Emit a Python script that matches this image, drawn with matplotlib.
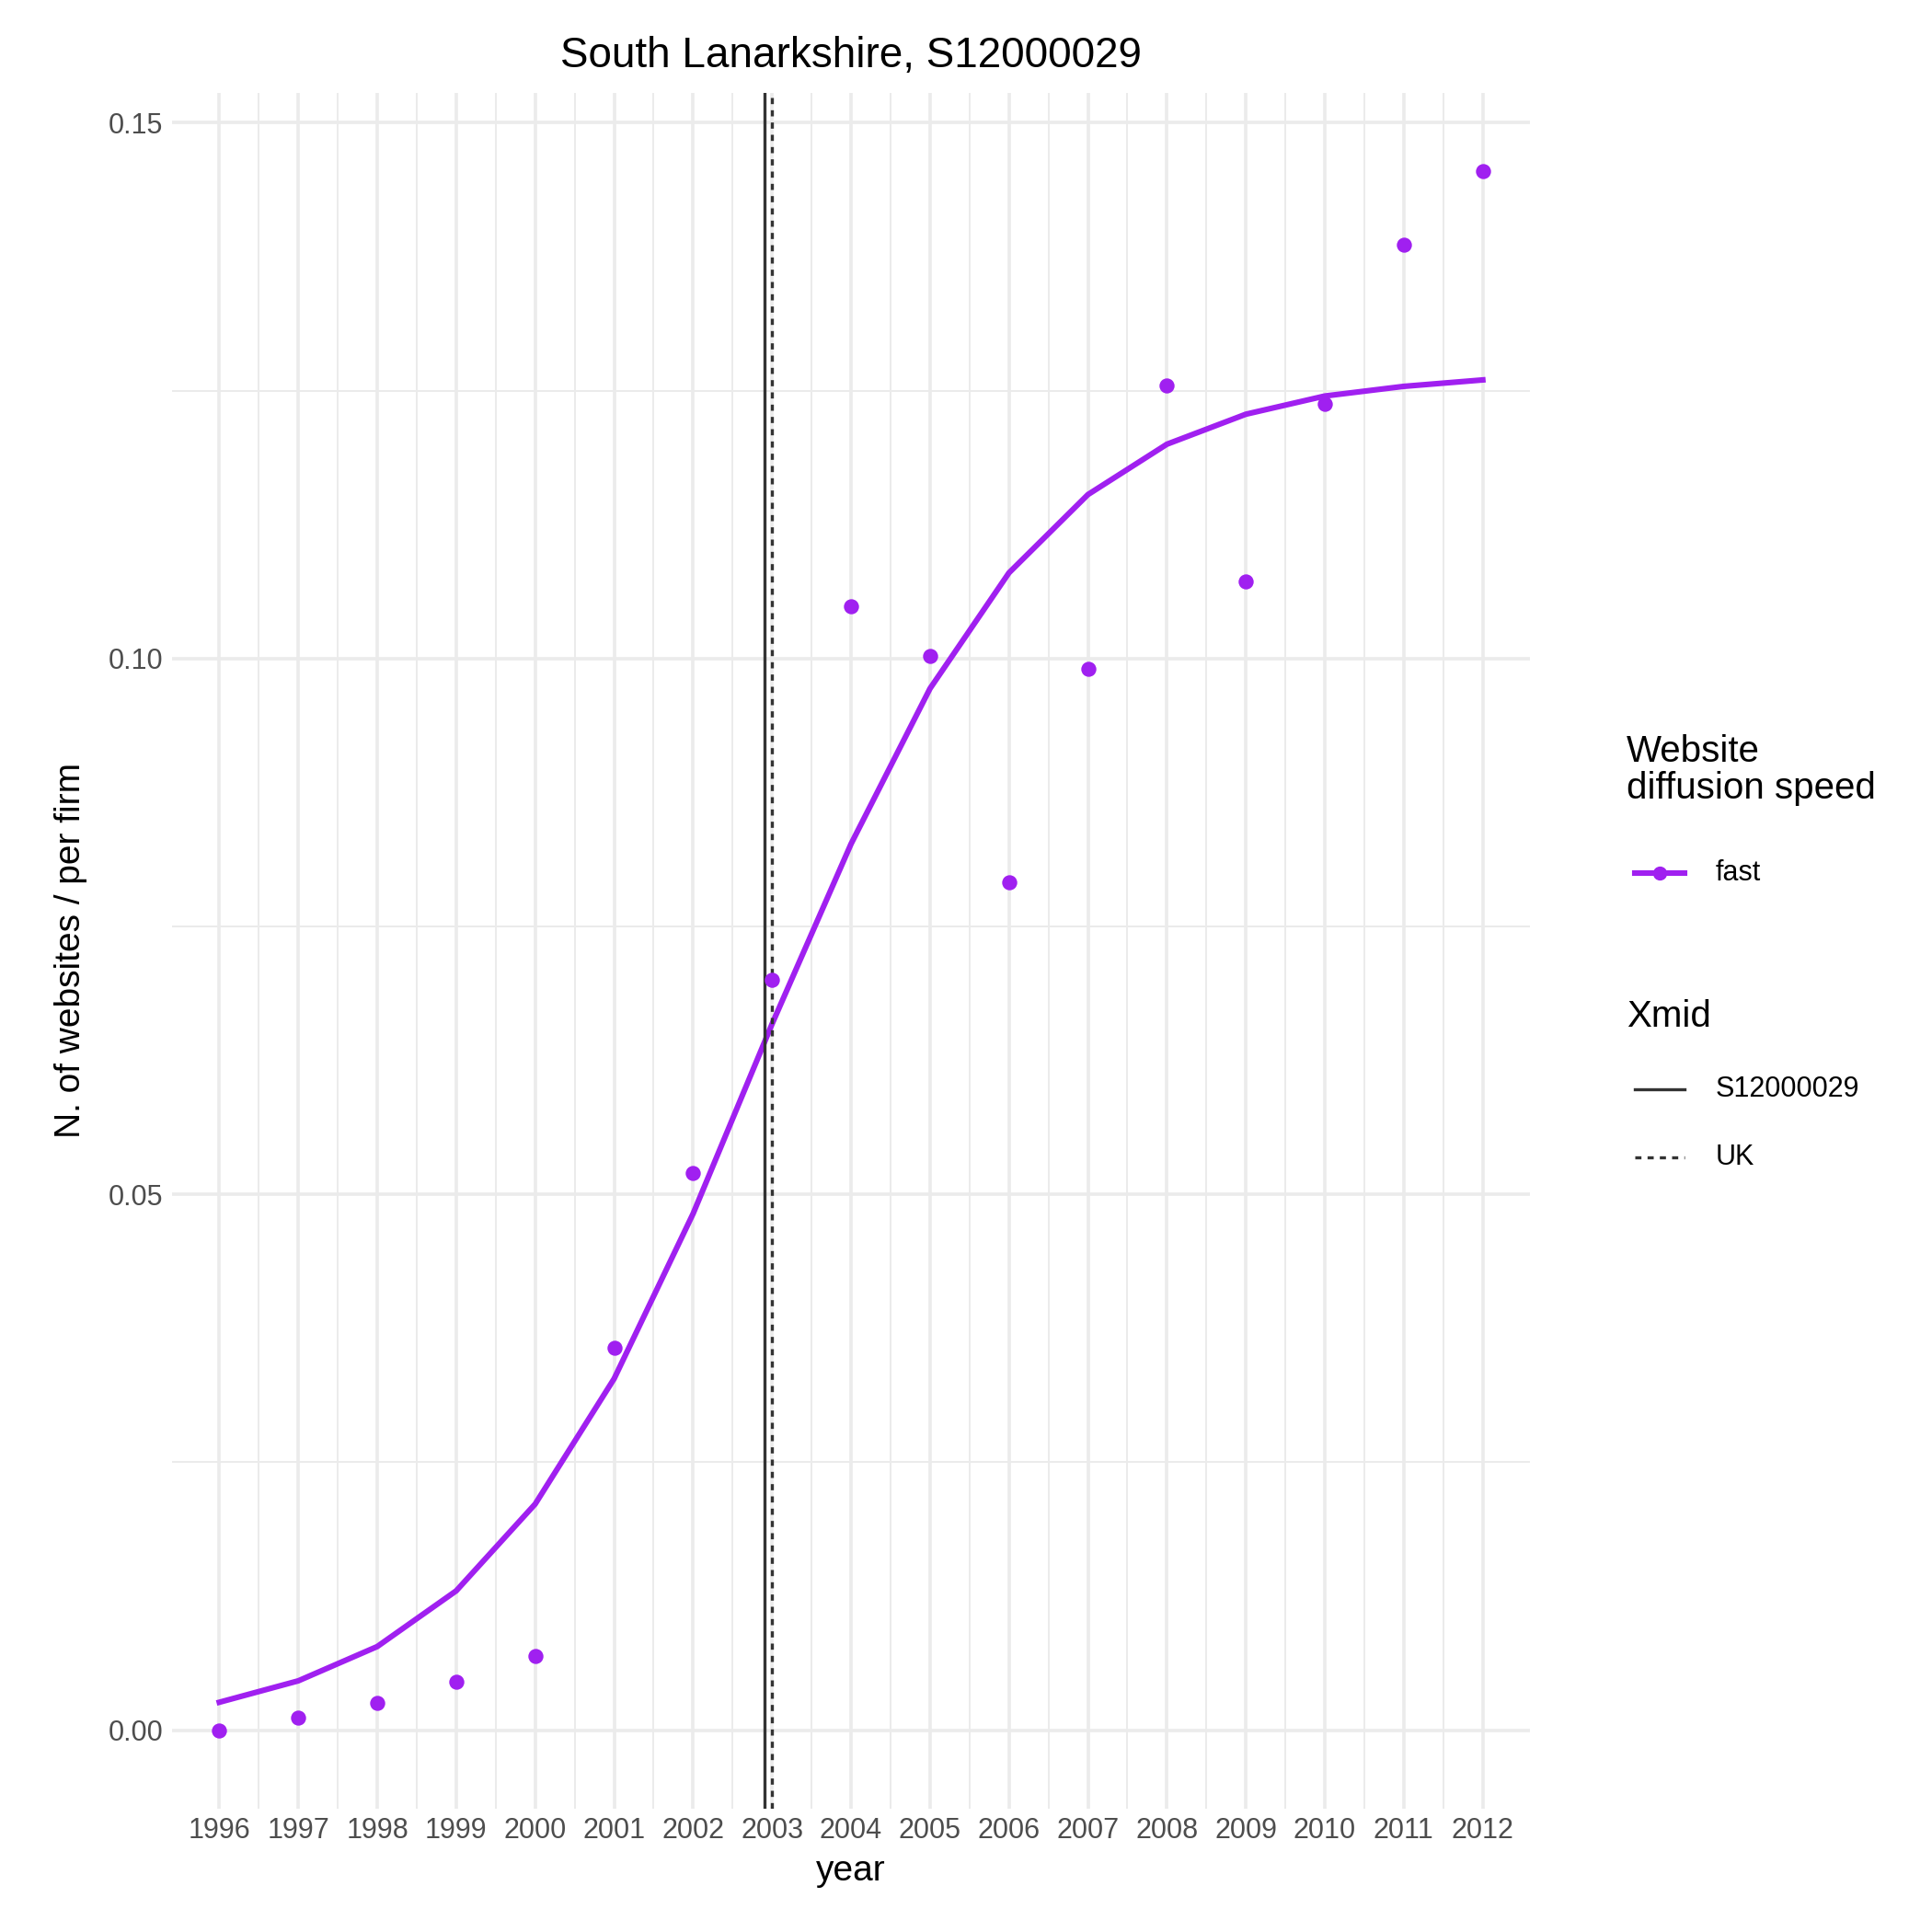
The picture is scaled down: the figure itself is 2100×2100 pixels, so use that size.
import matplotlib
matplotlib.use("Agg")
import matplotlib.pyplot as plt
from matplotlib.lines import Line2D

years = list(range(1996, 2013))
points = [0.0, 0.0012, 0.0025, 0.0045, 0.0069, 0.0357, 0.052, 0.070, 0.1049, 0.1002,
          0.0791, 0.0990, 0.1255, 0.1072, 0.1238, 0.1386, 0.1455]
fit = [0.0026, 0.0046, 0.0078, 0.0130, 0.0211, 0.0328, 0.0482, 0.0659, 0.0827, 0.0972,
       0.1080, 0.1153, 0.1200, 0.1228, 0.1245, 0.1254, 0.1260]
xmid_region = 2002.9
xmid_uk = 2003.0
purple = "#A020F0"

plt.rcParams['font.family'] = ['Liberation Sans', 'DejaVu Sans']
fig = plt.figure(figsize=(10.5, 10.5), dpi=200)
ax = fig.add_axes([0.089, 0.064, 0.703, 0.888])
for s in ax.spines.values():
    s.set_visible(False)
ax.set_xlim(1995.4, 2012.6)
ax.set_ylim(-0.0073, 0.1528)
ax.set_xticks(years)
ax.set_xticks([y + 0.5 for y in years[:-1]], minor=True)
ax.set_yticks([0, 0.05, 0.10, 0.15])
ax.set_yticklabels(["0.00", "0.05", "0.10", "0.15"])
ax.set_yticks([0.025, 0.075, 0.125], minor=True)
ax.grid(which='major', color='#EBEBEB', lw=1.3)
ax.grid(which='minor', color='#EBEBEB', lw=0.7)
ax.set_axisbelow(True)
ax.tick_params(which='both', length=0, labelsize=11, labelcolor='#4D4D4D')
ax.plot(years, fit, color=purple, lw=2.2)
ax.scatter(years, points, color=purple, s=24, zorder=3)
ax.axvline(xmid_region, color='#333333', lw=1.2)
ax.axvline(xmid_uk, color='#333333', lw=1.2, ls=(0, (2, 2)))
ax.set_xlabel("year", fontsize=14, labelpad=4)
ax.set_ylabel("N. of websites / per firm", fontsize=14, labelpad=8)
ax.set_title("South Lanarkshire, S12000029", fontsize=16.5, pad=10)

fig.text(0.842, 0.583, "Website\ndiffusion speed", fontsize=14.5, va='bottom', linespacing=1.05)
fig.lines.append(Line2D([0.846, 0.872], [0.548, 0.548], color=purple, lw=2.2, transform=fig.transFigure))
fig.lines.append(Line2D([0.859], [0.548], color=purple, marker='o', ms=4.5, transform=fig.transFigure))
fig.text(0.888, 0.548, "fast", fontsize=11, va='center')
fig.text(0.842, 0.474, "Xmid", fontsize=14.5, va='center')
fig.lines.append(Line2D([0.846, 0.872], [0.436, 0.436], color='#333333', lw=1.2, transform=fig.transFigure))
fig.text(0.888, 0.436, "S12000029", fontsize=11, va='center')
fig.lines.append(Line2D([0.846, 0.872], [0.401, 0.401], color='#333333', lw=1.2, ls=(0, (2, 2)), transform=fig.transFigure))
fig.text(0.888, 0.401, "UK", fontsize=11, va='center')

fig.savefig("out.png", dpi=200, facecolor='white')
